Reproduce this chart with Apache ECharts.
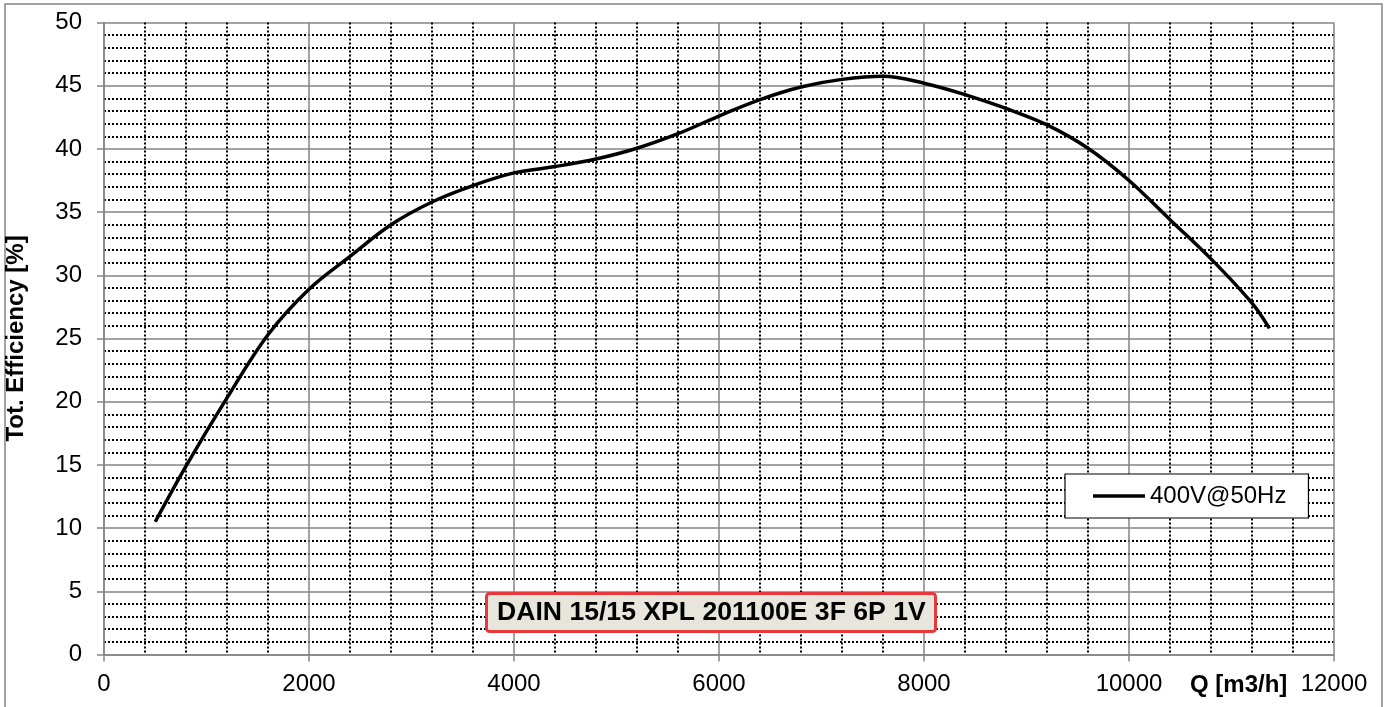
<!DOCTYPE html>
<html>
<head>
<meta charset="utf-8">
<script src="https://cdn.jsdelivr.net/npm/echarts@6/dist/echarts.min.js"></script>
<style>
  html, body { margin: 0; padding: 0; background: #fff; }
  #chart { width: 1390px; height: 707px; }
</style>
</head>
<body>
<div id="chart"></div>
<script>
var chartDom = document.getElementById('chart');
var myChart = echarts.init(chartDom);
var option;

// flow Q [m3/h] and total efficiency [%]
var qData = [500, 800, 1200, 1600, 2000, 2400, 2800, 3200, 3600, 4000, 4400, 4800, 5200, 5600, 6000,
  6400, 6800, 7200, 7600, 8000, 8400, 8800, 9200, 9600, 10000, 10400, 10800, 11200, 11370];
var effData = [10.5, 14.9, 20.3, 25.3, 28.9, 31.5, 34.0, 35.8, 37.1, 38.1, 38.6, 39.2, 40.05, 41.2, 42.6,
  43.9, 44.9, 45.5, 45.75, 45.2, 44.3, 43.2, 41.9, 40.05, 37.5, 34.4, 31.3, 27.8, 25.8];
var seriesName = '400V@50Hz';
var chartTitle = 'DAIN 15/15 XPL 201100E 3F 6P 1V';
var xName = 'Q [m3/h]';
var yName = 'Tot. Efficiency [%]';

var font = 'Liberation Sans, Arial, sans-serif';
var gray = '#858585';

var points = [];
for (var i = 0; i < qData.length; i++) {
  points.push([qData[i], effData[i]]);
}

option = {
  animation: false,
  textStyle: { fontFamily: font },
  title: {
    text: chartTitle,
    left: 486,
    top: 593,
    padding: [6, 10, 6, 11],
    backgroundColor: '#e8e6dc',
    borderColor: '#e8383b',
    borderWidth: 3,
    borderRadius: 3,
    textStyle: { fontFamily: font, fontSize: 26.6, fontWeight: 'bold', color: '#000' }
  },
  legend: {
    left: 1065,
    top: 474,
    padding: [10, 22, 10, 28],
    borderColor: '#000',
    borderWidth: 1.2,
    backgroundColor: '#fff',
    icon: 'rect',
    itemWidth: 52,
    itemHeight: 3.4,
    itemGap: 5,
    textStyle: { fontFamily: font, fontSize: 24, color: '#000' },
    data: [seriesName]
  },
  grid: {
    left: 104,
    right: 56,
    top: 22.5,
    bottom: 52.5,
    outerBoundsMode: 'none'
  },
  xAxis: {
    type: 'value',
    min: 0,
    max: 12000,
    interval: 2000,
    axisLine: { show: true, onZero: false, lineStyle: { color: gray, width: 1.5 } },
    axisTick: { show: true, length: 7, lineStyle: { color: gray, width: 1.5 } },
    axisLabel: { margin: 18, fontSize: 24, color: '#000', fontFamily: font,
      formatter: function (v) { return String(v); } },
    splitLine: { show: true, lineStyle: { color: gray, width: 1.5 } },
    minorTick: { show: false, splitNumber: 5 },
    minorSplitLine: { show: true, lineStyle: { color: '#000', width: 2, type: [2, 2] } }
  },
  yAxis: {
    type: 'value',
    min: 0,
    max: 50,
    interval: 5,
    name: yName,
    nameLocation: 'middle',
    nameGap: 76,
    nameTextStyle: { fontFamily: font, fontSize: 24, fontWeight: 'bold', color: '#000' },
    axisLine: { show: true, lineStyle: { color: gray, width: 1.5 } },
    axisTick: { show: true, length: 7, lineStyle: { color: gray, width: 1.5 } },
    axisLabel: { margin: 22, fontSize: 24, color: '#000', fontFamily: font },
    splitLine: { show: true, lineStyle: { color: gray, width: 1.5 } },
    minorTick: { show: false, splitNumber: 5 },
    minorSplitLine: { show: true, lineStyle: { color: '#000', width: 2, type: [2, 2] } }
  },
  graphic: [
    {
      type: 'rect',
      silent: true,
      shape: { x: 5, y: 4, width: 1377, height: 710 },
      style: { fill: null, stroke: gray, lineWidth: 1.5 }
    },
    {
      type: 'text',
      left: 1190,
      top: 673,
      style: { text: xName, fontFamily: font, fontSize: 24, fontWeight: 'bold', fill: '#000' }
    }
  ],
  series: [
    {
      type: 'line',
      name: seriesName,
      data: points,
      smooth: 0.35,
      symbol: 'none',
      lineStyle: { color: '#000', width: 3.5 },
      itemStyle: { color: '#000' },
      z: 10
    }
  ]
};

option && myChart.setOption(option);
</script>
</body>
</html>
